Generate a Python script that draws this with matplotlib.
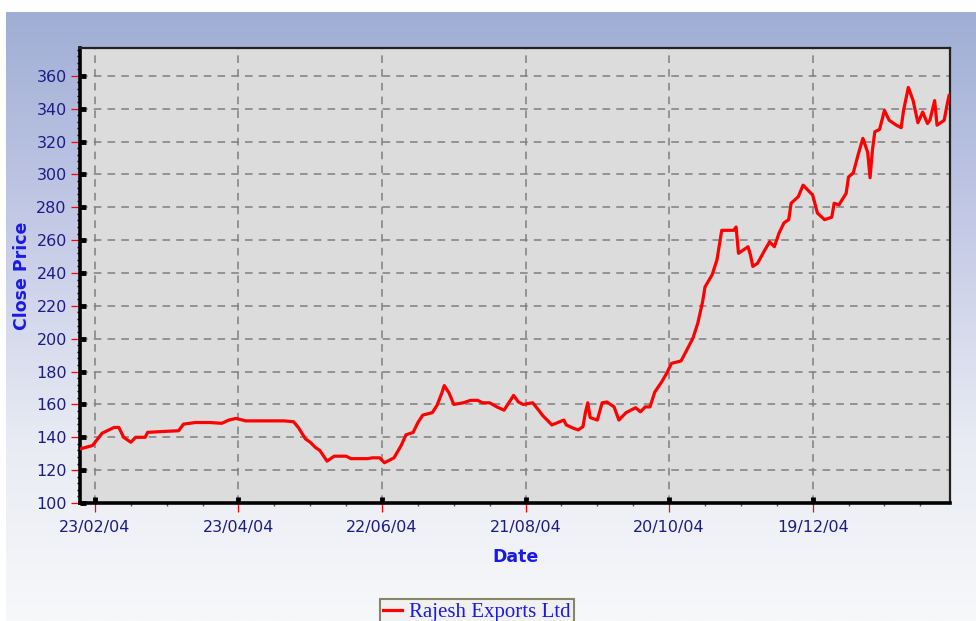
import numpy as np
import pandas as pd
import matplotlib
matplotlib.use("Agg")
from matplotlib import pyplot as plt
import matplotlib.dates as mdates
from matplotlib.ticker import FixedLocator, MultipleLocator

# closing prices (dd/mm/yy)
dates = [
    "17/02/04", "22/02/04", "26/02/04", "02/03/04", "04/03/04", "06/03/04", "09/03/04",
    "11/03/04", "15/03/04", "16/03/04", "22/03/04", "29/03/04", "31/03/04", "05/04/04",
    "11/04/04", "16/04/04", "19/04/04", "22/04/04", "26/04/04", "02/05/04", "12/05/04",
    "16/05/04", "18/05/04", "21/05/04", "23/05/04", "25/05/04", "27/05/04", "30/05/04",
    "02/06/04", "07/06/04", "09/06/04", "16/06/04", "18/06/04", "21/06/04", "23/06/04",
    "27/06/04", "30/06/04", "02/07/04", "05/07/04", "07/07/04", "09/07/04", "13/07/04",
    "15/07/04", "17/07/04", "18/07/04", "20/07/04", "22/07/04", "26/07/04", "29/07/04",
    "01/08/04", "03/08/04", "06/08/04", "09/08/04", "12/08/04", "14/08/04", "16/08/04",
    "18/08/04", "20/08/04", "24/08/04", "27/08/04", "28/08/04", "01/09/04", "06/09/04",
    "07/09/04", "10/09/04", "12/09/04", "14/09/04", "15/09/04", "16/09/04", "17/09/04",
    "20/09/04", "22/09/04", "24/09/04", "27/09/04", "29/09/04", "02/10/04", "06/10/04",
    "08/10/04", "10/10/04", "12/10/04", "14/10/04", "17/10/04", "19/10/04", "21/10/04",
    "25/10/04", "27/10/04", "30/10/04", "01/11/04", "03/11/04", "04/11/04", "07/11/04",
    "09/11/04", "11/11/04", "16/11/04", "17/11/04", "18/11/04", "22/11/04", "23/11/04",
    "24/11/04", "26/11/04", "29/11/04", "01/12/04", "03/12/04", "05/12/04", "07/12/04",
    "09/12/04", "10/12/04", "13/12/04", "15/12/04", "19/12/04", "21/12/04", "24/12/04",
    "27/12/04", "28/12/04", "30/12/04", "02/01/05", "03/01/05", "05/01/05", "07/01/05",
    "09/01/05", "11/01/05", "12/01/05", "13/01/05", "14/01/05", "16/01/05", "18/01/05",
    "20/01/05", "23/01/05", "25/01/05", "26/01/05", "28/01/05", "30/01/05", "01/02/05",
    "03/02/05", "05/02/05", "06/02/05", "08/02/05", "09/02/05", "12/02/05", "13/02/05",
    "14/02/05",
]
close = [
    133, 135, 142.5, 146, 146, 140, 137,
    140, 140, 143, 143.5, 144, 148, 149,
    149, 148.5, 150.5, 151.5, 150, 150, 150,
    149.5, 146, 139, 137, 134, 132, 125.5,
    128.5, 128.5, 127, 127, 127.5, 127.5, 124.5,
    127.5, 135, 141.5, 143, 149, 153.5, 155,
    159.5, 167, 171.5, 167, 160, 161, 162.5,
    162.5, 161, 161, 158.5, 156.5, 161, 165.5,
    161.5, 160, 161, 155.5, 153.5, 147.5, 150.5,
    147.5, 145.5, 144.5, 146.5, 155, 161, 152,
    150.5, 161, 161.5, 158.5, 150.5, 155, 158,
    155.5, 158.5, 158.5, 167.5, 174, 179, 185,
    186.5, 192, 200.5, 209.5, 222.5, 231.5, 239,
    248, 266, 266, 268, 252, 256, 251,
    244, 246, 254, 259, 256, 264.5, 270.5,
    272.5, 282.5, 286.5, 293.5, 287.5, 276.5, 272.5,
    274, 282.5, 281.5, 288.5, 298.5, 301, 312,
    322, 313.5, 298, 315, 326, 327.5, 339,
    333, 330, 328.5, 339, 353, 345, 331.5,
    338, 331, 333, 345, 330, 333, 341,
    348,
]
tick_dates = ["23/02/04", "23/04/04", "22/06/04", "21/08/04", "20/10/04", "19/12/04"]
series_name = "Rajesh Exports Ltd"

x = pd.to_datetime(dates, format="%d/%m/%y")
ticks = mdates.date2num(pd.to_datetime(tick_dates, format="%d/%m/%y"))

LABEL_C = "#1c1c86"
TITLE_C = "#1a1ae6"

fig = plt.figure(figsize=(9.76, 6.21), dpi=100, facecolor="white")

# blue-to-white backdrop, with the thin white margin at top and left
bg = fig.add_axes([6 / 976, 0, 970 / 976, 609 / 621], zorder=-5)
stops = np.array([0.0, 0.35, 0.7, 1.0])
cols = np.array([[160, 174, 213], [196, 202, 230], [232, 235, 243], [247, 248, 250]]) / 255
t = np.linspace(0, 1, 256)
grad = np.stack([np.interp(t, stops, cols[:, k]) for k in range(3)], axis=1)
bg.imshow(grad[:, None, :], aspect="auto", extent=[0, 1, 0, 1])
bg.axis("off")

pos = [80 / 976, 118 / 621, 870 / 976, 455 / 621]
ax = fig.add_axes(pos)
ax.set_facecolor("#dcdcdc")
ax.plot(x, close, color="#ff0000", lw=2.3, label=series_name, zorder=3)

ax.set_xlim(mdates.date2num(pd.Timestamp("2004-02-16 18:00")),
            mdates.date2num(pd.Timestamp("2005-02-14 10:00")))
ax.set_ylim(100, 377)

ax.xaxis.set_major_locator(FixedLocator(ticks))
ax.xaxis.set_minor_locator(MultipleLocator(15, offset=ticks[0] % 15))
ax.xaxis.set_major_formatter(mdates.DateFormatter("%d/%m/%y"))
ax.yaxis.set_major_locator(MultipleLocator(20))
ax.yaxis.set_minor_locator(MultipleLocator(4))

ax.grid(which="major", color="#7f7f7f", lw=1.1, ls=(0, (5, 4)))
ax.tick_params(which="major", direction="out", color="#ff0000", length=6.5,
               width=0.9, labelcolor=LABEL_C, labelsize=11.5, pad=3)
ax.tick_params(axis="x", which="major", pad=6)
ax.tick_params(axis="y", which="minor", direction="out", color="black",
               length=2.5, width=1)
ax.tick_params(axis="x", which="minor", direction="out", color="#555555",
               length=2.5, width=1)
for side in ("left", "bottom"):
    ax.spines[side].set_linewidth(2.6)
    ax.spines[side].set_color("black")
for side in ("top", "right"):
    ax.spines[side].set_linewidth(1.6)
    ax.spines[side].set_color("#222222")

# black square markers on the inner side of the major ticks
ax2 = fig.add_axes(pos, sharex=ax, sharey=ax, facecolor="none")
ax2.tick_params(which="major", direction="in", color="black", length=4,
                width=3.5, labelleft=False, labelbottom=False)
ax2.tick_params(which="minor", length=0)
for s in ax2.spines.values():
    s.set_visible(False)

ax.set_xlabel("Date", color=TITLE_C, fontsize=12.5, fontweight="bold", labelpad=9)
ax.set_ylabel("Close Price", color=TITLE_C, fontsize=12.5, fontweight="bold", labelpad=4)

leg = fig.legend(handles=ax.get_lines(), loc="upper center",
                 bbox_to_anchor=(477 / 976, 1 - 589 / 621),
                 prop={"family": "Liberation Serif", "size": 15},
                 labelcolor="#1a1ae6", fancybox=False, framealpha=1,
                 edgecolor="#85856a", facecolor="#f1f1f1",
                 handlelength=0.9, handletextpad=0.35, borderpad=0.15)
leg.get_frame().set_linewidth(1.5)

fig.savefig("out.png", dpi=100)
